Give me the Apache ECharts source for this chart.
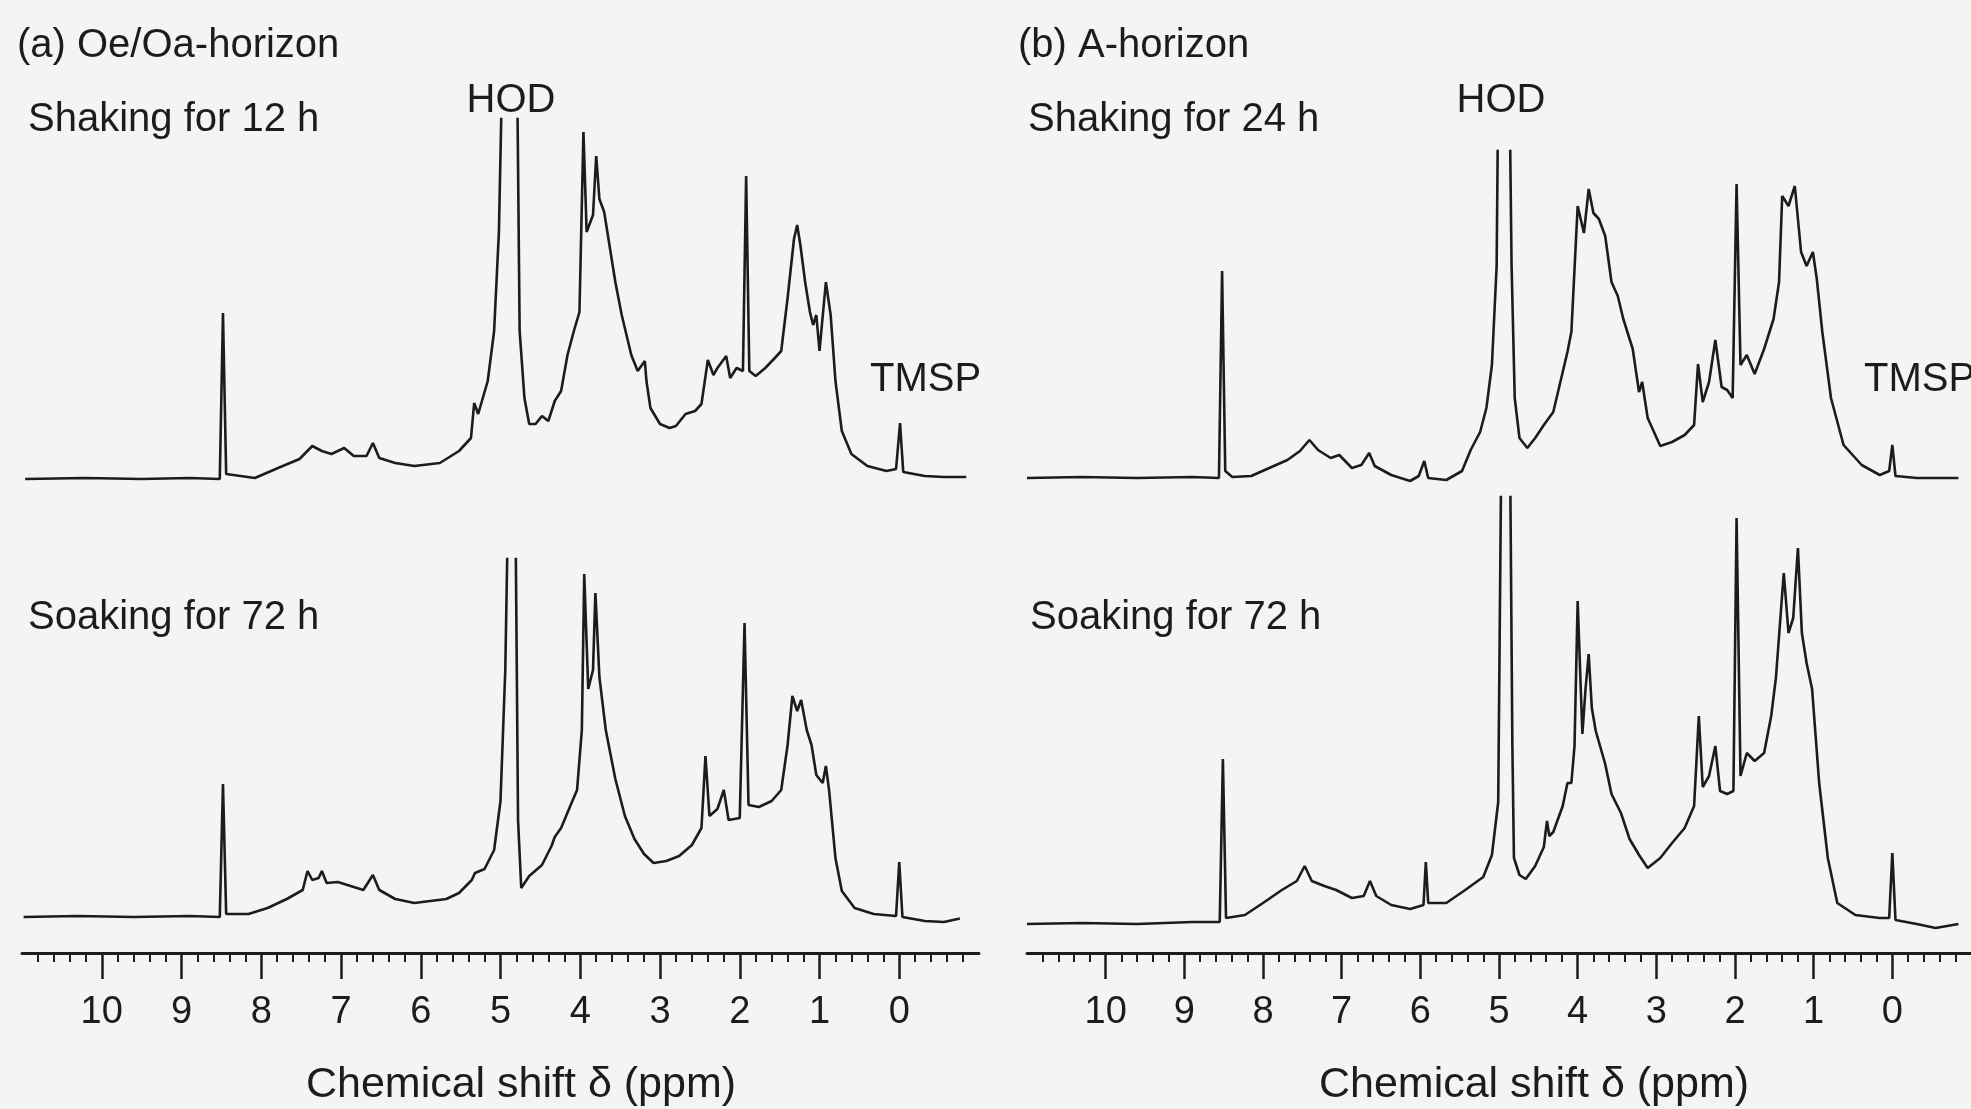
<!DOCTYPE html>
<html>
<head>
<meta charset="utf-8">
<title>1H NMR spectra of water-extractable organic matter</title>
<script src="https://cdn.jsdelivr.net/npm/echarts@6/dist/echarts.min.js"></script>
<style>
  html, body { margin: 0; padding: 0; background: #f4f4f4; }
  #main { width: 1971px; height: 1109px; }
</style>
</head>
<body>
<div id="main"></div>
<script>
// chemical shift (ppm) vs. signal intensity (arbitrary units)
const ppmTicks = [10, 9, 8, 7, 6, 5, 4, 3, 2, 1, 0];

// (a) Oe/Oa-horizon, shaking for 12 h
const oeShake12 = [
  [10.96, 0], [10.2, 1], [9.5, 0], [8.9, 1], [8.52, 0], [8.48, 166], [8.44, 5], [8.08, 1],
  [7.76, 12], [7.52, 20], [7.36, 33], [7.24, 28], [7.12, 25], [6.96, 31], [6.84, 23], [6.68, 23],
  [6.60, 36], [6.52, 21], [6.32, 16], [6.08, 13], [5.76, 16], [5.52, 28], [5.37, 41], [5.33, 76],
  [5.28, 65], [5.16, 98], [5.08, 148], [5.02, 247], [4.96, 480], [4.80, 480], [4.76, 148], [4.70, 81],
  [4.64, 55], [4.56, 55], [4.48, 63], [4.40, 58], [4.32, 78], [4.24, 88], [4.16, 124], [4.08, 148],
  [4.01, 167], [3.96, 347], [3.92, 247], [3.84, 264], [3.80, 323], [3.76, 280], [3.70, 267], [3.64, 237],
  [3.56, 197], [3.48, 164], [3.36, 124], [3.28, 108], [3.19, 118], [3.17, 98], [3.12, 71], [3.00, 55],
  [2.88, 51], [2.80, 53], [2.68, 65], [2.56, 68], [2.48, 75], [2.40, 119], [2.33, 104], [2.28, 111],
  [2.17, 123], [2.12, 101], [2.04, 111], [1.96, 108], [1.92, 303], [1.88, 108], [1.80, 103], [1.68, 111],
  [1.56, 121], [1.48, 128], [1.40, 181], [1.32, 240], [1.28, 254], [1.24, 234], [1.18, 197], [1.12, 167],
  [1.08, 154], [1.04, 164], [1.00, 128], [0.92, 197], [0.86, 164], [0.80, 98], [0.72, 48], [0.60, 25],
  [0.40, 13], [0.16, 8], [0.04, 10], [-0.01, 56], [-0.05, 7], [-0.32, 3], [-0.56, 2], [-0.84, 2]
];

// (a) Oe/Oa-horizon, soaking for 72 h
const oeSoak72 = [
  [10.98, 0], [10.3, 1], [9.6, 0], [8.9, 1], [8.52, 0], [8.48, 133], [8.44, 3], [8.16, 3],
  [7.92, 9], [7.68, 18], [7.48, 27], [7.42, 46], [7.36, 37], [7.28, 39], [7.24, 46], [7.18, 34],
  [7.04, 35], [6.88, 31], [6.72, 27], [6.60, 42], [6.52, 27], [6.32, 18], [6.08, 14], [5.68, 18],
  [5.52, 24], [5.36, 37], [5.32, 44], [5.20, 48], [5.08, 67], [5.00, 116], [4.94, 247], [4.89, 480],
  [4.82, 480], [4.78, 97], [4.74, 29], [4.64, 41], [4.48, 52], [4.36, 71], [4.32, 80], [4.24, 89],
  [4.12, 112], [4.04, 127], [3.98, 187], [3.95, 343], [3.90, 228], [3.84, 247], [3.81, 324], [3.76, 240],
  [3.68, 187], [3.56, 138], [3.44, 101], [3.32, 78], [3.20, 63], [3.08, 54], [2.92, 56], [2.76, 61],
  [2.60, 72], [2.48, 89], [2.43, 161], [2.38, 101], [2.28, 108], [2.20, 127], [2.14, 97], [2.00, 99],
  [1.94, 294], [1.89, 112], [1.76, 110], [1.60, 116], [1.48, 127], [1.40, 172], [1.34, 221], [1.28, 206],
  [1.23, 217], [1.16, 187], [1.10, 172], [1.04, 142], [0.96, 134], [0.92, 151], [0.88, 127], [0.80, 59],
  [0.72, 26], [0.56, 9], [0.32, 3], [0.04, 1], [0.00, 55], [-0.04, 0], [-0.32, -4], [-0.56, -5], [-0.76, -1.5]
];

// (b) A-horizon, shaking for 24 h
const aShake24 = [
  [11.0, 0], [10.3, 1], [9.6, 0], [8.9, 1], [8.56, 0], [8.52, 207], [8.48, 7], [8.39, 1],
  [8.15, 2], [7.92, 10], [7.69, 18], [7.53, 27], [7.41, 38], [7.30, 28], [7.14, 20], [7.03, 23],
  [6.87, 10], [6.75, 13], [6.65, 25], [6.58, 12], [6.37, 3], [6.13, -3], [6.02, 2], [5.95, 17],
  [5.90, 0], [5.67, -2], [5.47, 7], [5.36, 28], [5.24, 46], [5.16, 70], [5.09, 113], [5.03, 212],
  [5.00, 480], [4.88, 480], [4.84, 212], [4.80, 80], [4.74, 40], [4.64, 30], [4.54, 40], [4.43, 53],
  [4.31, 66], [4.19, 106], [4.13, 126], [4.08, 146], [4.00, 272], [3.92, 245], [3.86, 289], [3.80, 265],
  [3.73, 259], [3.65, 242], [3.57, 196], [3.49, 182], [3.42, 159], [3.30, 129], [3.22, 86], [3.18, 96],
  [3.11, 60], [2.95, 32], [2.80, 36], [2.64, 43], [2.52, 53], [2.47, 114], [2.41, 76], [2.33, 96],
  [2.25, 138], [2.17, 91], [2.10, 88], [2.03, 80], [1.98, 294], [1.93, 113], [1.85, 123], [1.75, 104],
  [1.63, 129], [1.51, 159], [1.44, 196], [1.40, 282], [1.32, 272], [1.24, 292], [1.16, 226], [1.09, 212],
  [1.01, 226], [0.96, 199], [0.89, 146], [0.78, 80], [0.62, 33], [0.39, 13], [0.16, 3], [0.04, 7],
  [0.00, 33], [-0.04, 2], [-0.31, 0], [-0.84, 0]
];

// (b) A-horizon, soaking for 72 h
const aSoak72 = [
  [11.0, 0], [10.3, 1], [9.6, 0], [8.9, 2], [8.55, 2], [8.51, 165], [8.47, 6], [8.23, 9],
  [8.00, 21], [7.76, 34], [7.57, 43], [7.47, 58], [7.38, 43], [7.22, 38], [7.07, 34], [6.87, 26],
  [6.72, 28], [6.64, 43], [6.56, 28], [6.37, 19], [6.13, 15], [5.96, 19], [5.93, 62], [5.90, 21],
  [5.67, 21], [5.43, 34], [5.20, 47], [5.09, 69], [5.01, 122], [4.97, 480], [4.86, 480], [4.83, 178],
  [4.81, 66], [4.74, 49], [4.66, 45], [4.54, 58], [4.43, 77], [4.39, 103], [4.36, 88], [4.31, 92],
  [4.19, 118], [4.13, 141], [4.08, 141], [4.04, 178], [4.00, 323], [3.94, 190], [3.90, 235], [3.86, 270],
  [3.82, 216], [3.77, 193], [3.65, 160], [3.57, 130], [3.45, 111], [3.34, 85], [3.22, 69], [3.11, 56],
  [2.95, 66], [2.80, 81], [2.64, 96], [2.52, 118], [2.46, 208], [2.41, 137], [2.33, 148], [2.25, 178],
  [2.19, 133], [2.10, 130], [2.02, 133], [1.98, 406], [1.93, 148], [1.85, 171], [1.75, 163], [1.63, 171],
  [1.54, 208], [1.48, 246], [1.38, 351], [1.32, 291], [1.26, 306], [1.20, 376], [1.15, 291], [1.09, 261],
  [1.02, 235], [0.93, 141], [0.82, 66], [0.70, 21], [0.47, 9], [0.16, 6], [0.04, 6], [0.00, 71],
  [-0.04, 4], [-0.31, 0], [-0.55, -4], [-0.84, 0]
];

const ink = '#1c1c1c';
const font = '"Liberation Sans", Arial, sans-serif';

function xAxisFor(gridIndex, visible) {
  return {
    type: 'value',
    gridIndex: gridIndex,
    min: -1,
    max: 11,
    interval: 1,
    inverse: true,
    show: visible,
    splitLine: { show: false },
    axisLine: { show: true, onZero: false, lineStyle: { color: ink, width: 3 } },
    axisTick: { show: true, inside: false, length: 26, customValues: ppmTicks, lineStyle: { color: ink, width: 2.5 } },
    minorTick: { show: true, splitNumber: 5, length: 9, lineStyle: { color: ink, width: 2 } },
    axisLabel: {
      customValues: ppmTicks,
      margin: 41,
      color: ink,
      fontFamily: font,
      fontSize: 38
    }
  };
}

function yAxisFor(gridIndex, min, max) {
  return { type: 'value', gridIndex: gridIndex, min: min, max: max, show: false };
}

function spectrum(index, data) {
  return {
    type: 'line',
    xAxisIndex: index,
    yAxisIndex: index,
    data: data,
    symbol: 'none',
    clip: true,
    lineStyle: { color: ink, width: 2.6 },
    silent: true
  };
}

function label(text, x, y, size, align) {
  return {
    type: 'text',
    x: x,
    y: y,
    style: {
      text: text,
      fill: ink,
      font: size + 'px ' + font,
      textAlign: align || 'left',
      textVerticalAlign: 'middle'
    }
  };
}

const chart = echarts.init(document.getElementById('main'));
chart.setOption({
  backgroundColor: '#f4f4f4',
  animation: false,
  grid: [
    { left: 22, top: 119, width: 957, height: 380 },
    { left: 22, top: 559, width: 957, height: 394 },
    { left: 1027, top: 151, width: 957, height: 347 },
    { left: 1027, top: 497, width: 957, height: 456 }
  ],
  xAxis: [xAxisFor(0, false), xAxisFor(1, true), xAxisFor(2, false), xAxisFor(3, true)],
  yAxis: [yAxisFor(0, -20, 360), yAxisFor(1, -36, 358), yAxisFor(2, -20, 327), yAxisFor(3, -29, 427)],
  series: [
    spectrum(0, oeShake12),
    spectrum(1, oeSoak72),
    spectrum(2, aShake24),
    spectrum(3, aSoak72)
  ],
  graphic: [
    label('(a) Oe/Oa-horizon', 17, 46, 40),
    label('Shaking for 12 h', 28, 120, 40),
    label('HOD', 511, 101, 40, 'center'),
    label('TMSP', 870, 380, 40),
    label('Soaking for 72 h', 28, 618, 40),
    label('Chemical shift \u03b4 (ppm)', 521, 1085, 43, 'center'),
    label('(b) A-horizon', 1018, 46, 40),
    label('Shaking for 24 h', 1028, 120, 40),
    label('HOD', 1501, 101, 40, 'center'),
    label('TMSP', 1864, 380, 40),
    label('Soaking for 72 h', 1030, 618, 40),
    label('Chemical shift \u03b4 (ppm)', 1534, 1085, 43, 'center')
  ]
});
</script>
</body>
</html>
